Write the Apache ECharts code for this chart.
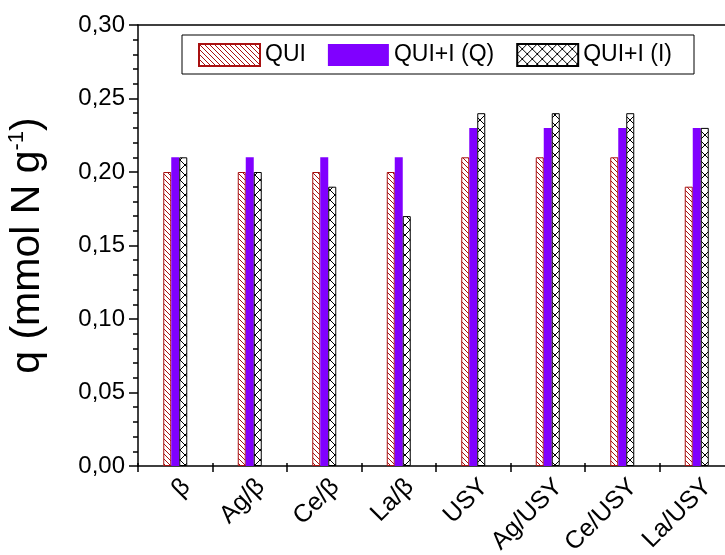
<!DOCTYPE html>
<html>
<head>
<meta charset="utf-8">
<script src="https://cdn.jsdelivr.net/npm/echarts@6/dist/echarts.min.js"></script>
<style>
html,body{margin:0;padding:0;background:#fff;}
#chart{width:725px;height:555px;}
</style>
</head>
<body>
<div id="chart"></div>
<script>
var categories = ['β', 'Ag/β', 'Ce/β', 'La/β', 'USY', 'Ag/USY', 'Ce/USY', 'La/USY'];
var seriesNames = ['QUI', 'QUI+I (Q)', 'QUI+I (I)'];
var qui = [0.20, 0.20, 0.20, 0.20, 0.21, 0.21, 0.21, 0.19];
var quiQ = [0.21, 0.21, 0.21, 0.21, 0.23, 0.23, 0.23, 0.23];
var quiI = [0.21, 0.20, 0.19, 0.17, 0.24, 0.24, 0.24, 0.23];

var FONT = '"Liberation Sans", Arial, sans-serif';
var RED = '#a81010';
var PURPLE = '#8000ff';

function hatchPattern(size, color, back, fwd) {
  var c = document.createElement('canvas');
  c.width = size; c.height = size;
  var g = c.getContext('2d');
  g.fillStyle = '#fff';
  g.fillRect(0, 0, size, size);
  g.strokeStyle = color;
  g.lineWidth = 1;
  for (var k = -size; k <= size; k += size) {
    if (back) {
      g.beginPath(); g.moveTo(k, 0); g.lineTo(k + size, size); g.stroke();
    }
    if (fwd) {
      g.beginPath(); g.moveTo(k, size); g.lineTo(k + size, 0); g.stroke();
    }
  }
  return c;
}

var patQui = { image: hatchPattern(5, RED, true, false), repeat: 'repeat' };
var patI = { image: hatchPattern(10, '#000', true, true), repeat: 'repeat' };

var GL = 138, GW = 596, GT = 25, GB = 89;

var chart = echarts.init(document.getElementById('chart'), null, { renderer: 'canvas' });
var option = {
  animation: false,
  backgroundColor: '#fff',
  textStyle: { fontFamily: FONT },
  grid: [
    { left: GL, top: GT, width: GW, bottom: GB, outerBoundsMode: 'none', containLabel: false },
    { left: GL + 11, top: GT, width: GW, bottom: GB, outerBoundsMode: 'none', containLabel: false }
  ],
  legend: {
    left: 182, top: 35,
    padding: [8, 22, 7, 16],
    borderColor: '#000', borderWidth: 1,
    itemWidth: 61, itemHeight: 22, itemGap: 22,
    icon: 'rect',
    textStyle: { fontSize: 23, color: '#000', fontFamily: FONT },
    data: seriesNames
  },
  xAxis: [{
    type: 'category',
    gridIndex: 0,
    position: 'bottom',
    data: categories,
    axisLine: { lineStyle: { color: '#000', width: 1.5 } },
    axisTick: { show: true, length: 6, lineStyle: { color: '#000', width: 1.5 } },
    axisLabel: { show: false },
    splitLine: { show: false }
  }, {
    type: 'category',
    gridIndex: 0,
    position: 'top',
    data: categories,
    axisLine: { lineStyle: { color: '#000', width: 1.5 } },
    axisTick: { show: false },
    axisLabel: { show: false },
    splitLine: { show: false }
  }, {
    type: 'category',
    gridIndex: 1,
    position: 'bottom',
    data: categories,
    axisLine: { show: false },
    axisTick: { show: false },
    splitLine: { show: false },
    axisLabel: { rotate: 45, fontSize: 25, color: '#000', margin: 17, fontFamily: FONT, interval: 0 }
  }, {
    type: 'category',
    gridIndex: 0,
    position: 'bottom',
    offset: 0,
    data: categories,
    axisLine: { show: false },
    axisTick: { show: true, inside: true, length: 3, lineStyle: { color: '#000', width: 1.5 } },
    axisLabel: { show: false },
    splitLine: { show: false }
  }],
  yAxis: [{
    type: 'value',
    gridIndex: 0,
    min: 0, max: 0.30, interval: 0.05,
    name: '{a|q (mmol N g}{s|-1}{a|)}',
    nameLocation: 'middle',
    nameGap: 88,
    nameTextStyle: {
      rich: {
        a: { fontSize: 41, color: '#000', fontFamily: FONT, lineHeight: 44 },
        s: { fontSize: 22, color: '#000', fontFamily: FONT, verticalAlign: 'top', lineHeight: 24 }
      }
    },
    axisLine: { show: true, lineStyle: { color: '#000', width: 1.5 } },
    axisTick: { show: true, length: 9, lineStyle: { color: '#000', width: 1.5 } },
    minorTick: { show: true, splitNumber: 5, length: 5, lineStyle: { color: '#000', width: 1.5 } },
    splitLine: { show: false },
    axisLabel: {
      fontSize: 24, color: '#000', margin: 13, fontFamily: FONT,
      formatter: function (v) { return v.toFixed(2).replace('.', ','); }
    }
  }, {
    type: 'value',
    gridIndex: 1,
    min: 0, max: 0.30, interval: 0.05,
    show: false
  }],
  series: [{
    name: seriesNames[0], type: 'bar', data: qui,
    barWidth: 8, barGap: '0%',
    itemStyle: { color: patQui, borderColor: RED, borderWidth: 1 }
  }, {
    name: seriesNames[1], type: 'bar', data: quiQ,
    barWidth: 8, barGap: '0%',
    itemStyle: { color: PURPLE }
  }, {
    name: seriesNames[2], type: 'bar', data: quiI,
    barWidth: 8, barGap: '0%',
    itemStyle: { color: patI, borderColor: '#000', borderWidth: 1 }
  }]
};
chart.setOption(option);
</script>
</body>
</html>
